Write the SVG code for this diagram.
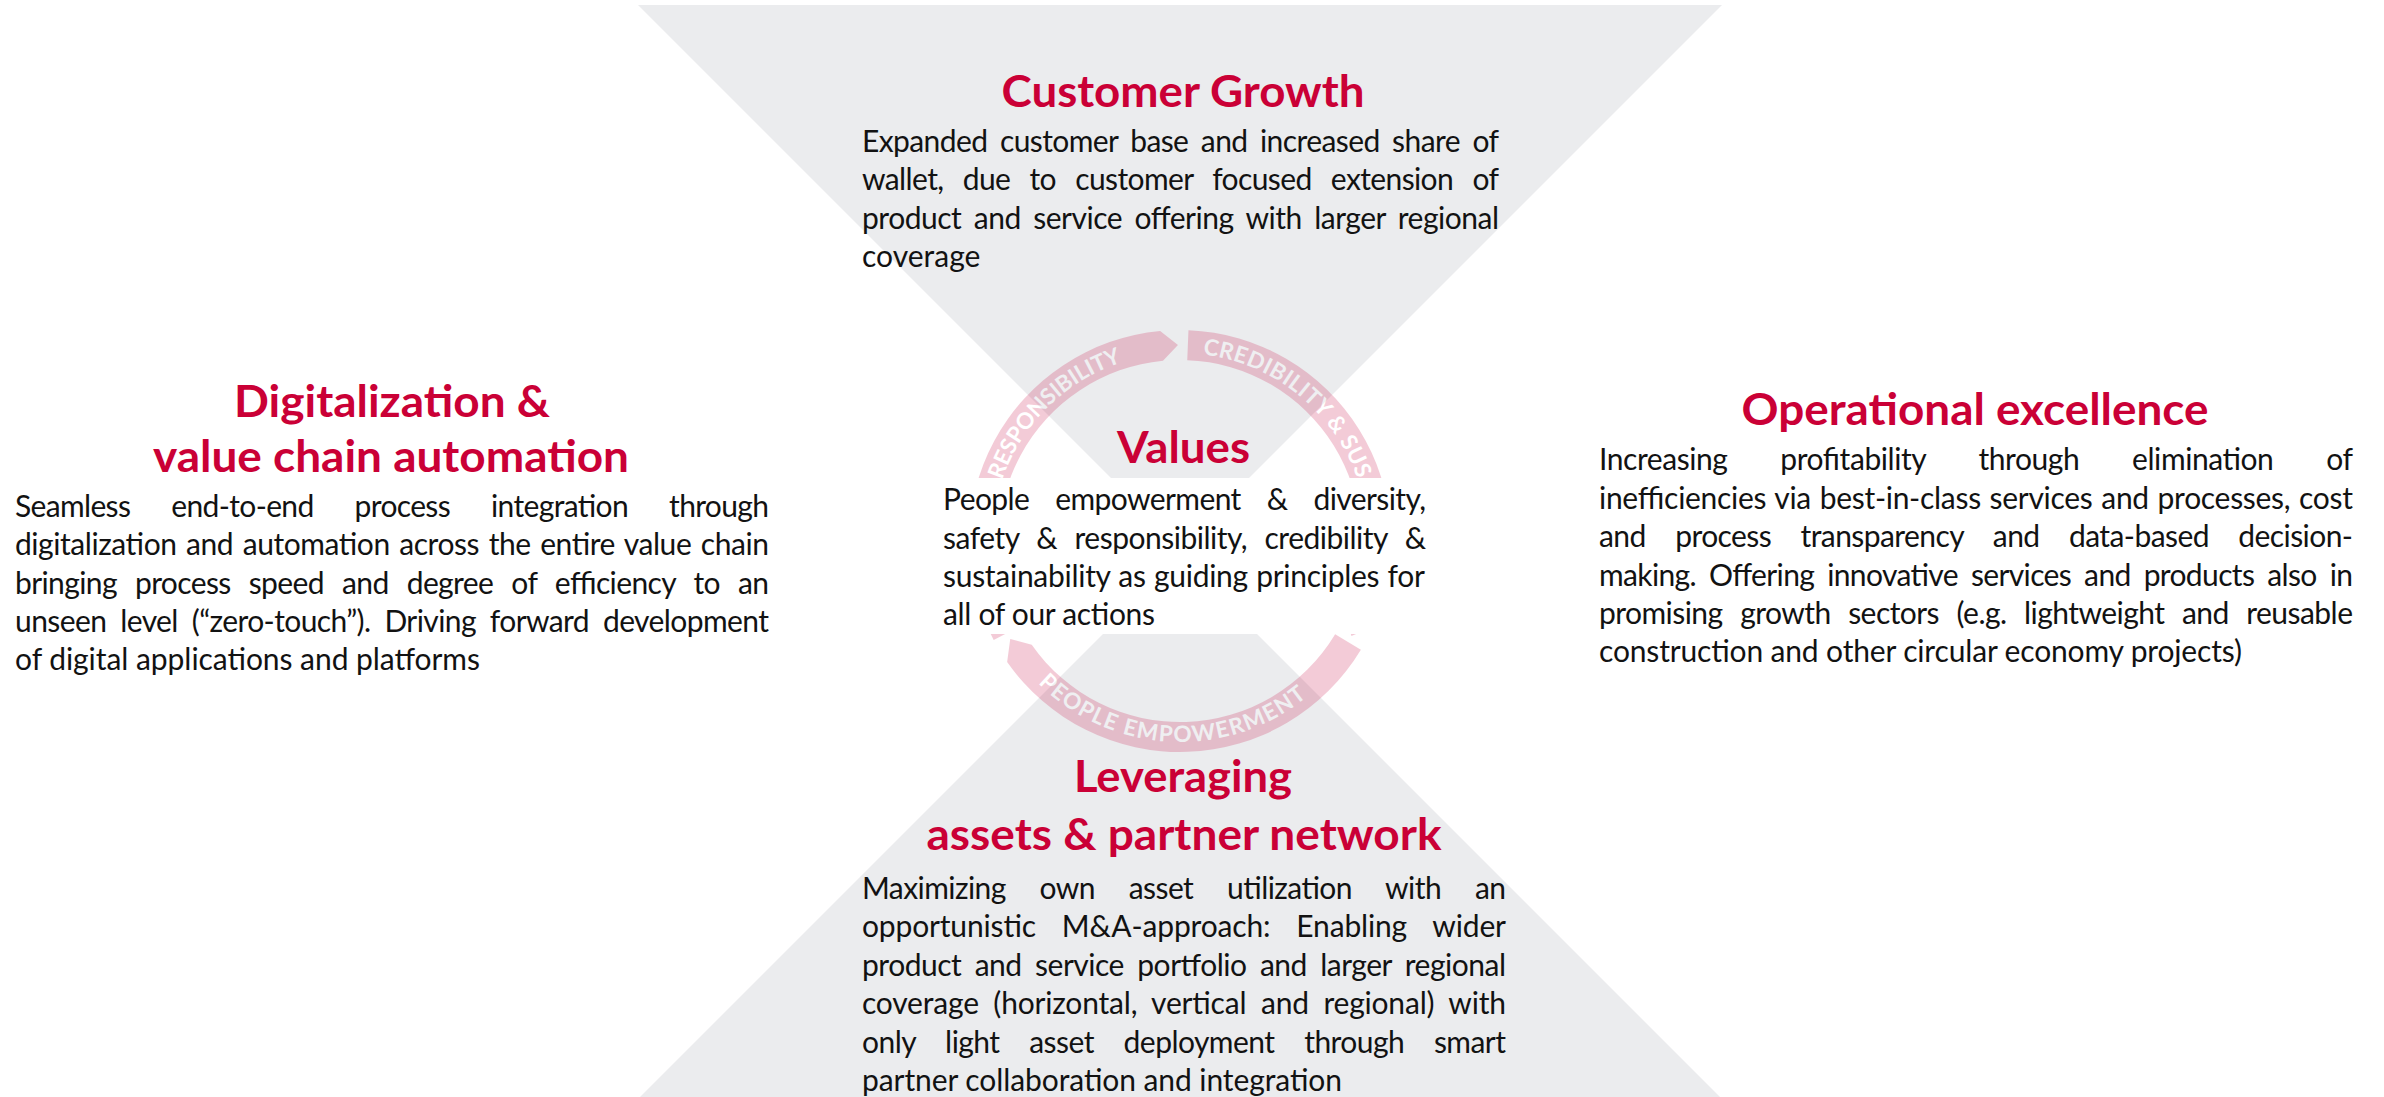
<svg xmlns="http://www.w3.org/2000/svg" width="2384" height="1097" viewBox="0 0 2384 1097">
<style>
.bg{fill:#EBECEE}
.title{font-family:Lato,"Noto Sans",sans-serif;font-weight:700;font-size:43px;fill:#CA0036;text-anchor:middle}
.body{font-family:Lato,"Noto Sans",sans-serif;font-size:30px;fill:#121212}
.seg{fill:#C8003C}
.rt{font-family:Lato,"Noto Sans",sans-serif;font-weight:700;font-size:22.5px;fill:#FFFFFF}
</style>
<defs>
<path id="arcTop" d="M 992 541 A 188 188 0 0 1 1180 353 A 188 188 0 0 1 1368 541"/>
<path id="arcBottom" d="M 979 541 A 201 201 0 0 0 1381 541"/>
</defs>
<rect x="0" y="0" width="2384" height="1097" fill="#FFFFFF"/>
<g id="background">
<polygon class="bg" points="638,5 1722,5 1180,547"/>
<polygon class="bg" points="640,1097 1720,1097 1180,557"/>
</g>
<g id="values-cycle" opacity="0.2">
<path class="seg" d="M 993.70 640.06 A 211 211 0 0 1 1160.14 330.94 L 1177.95 345.01 L 1162.97 360.80 A 181 181 0 0 0 1020.19 625.97 Z"/>
<path class="seg" d="M 1188.47 330.17 A 211 211 0 0 1 1372.76 626.82 L 1351.43 636.02 L 1345.35 614.62 A 181 181 0 0 0 1187.26 360.15 Z"/>
<path class="seg" d="M 1360.86 649.67 A 211 211 0 0 1 1007.16 662.03 L 1010.26 639 L 1031.73 644.82 A 181 181 0 0 0 1335.15 634.22 Z"/>
<text class="rt"><textPath href="#arcTop" startOffset="62" textLength="174" lengthAdjust="spacing">RESPONSIBILITY</textPath></text>
<text class="rt"><textPath href="#arcTop" startOffset="318" textLength="209" lengthAdjust="spacing">CREDIBILITY &amp; SUS</textPath></text>
<text class="rt"><textPath href="#arcBottom" startOffset="158" textLength="295" lengthAdjust="spacing">PEOPLE EMPOWERMENT</textPath></text>
</g>
<g id="node-values">
<rect x="930" y="478" width="510" height="156" fill="#FFFFFF"/>
<text class="title" x="1183.5" y="463" textLength="133" lengthAdjust="spacingAndGlyphs">Values</text>
<text class="body" x="943" y="510" style="word-spacing:18.9px" textLength="483" lengthAdjust="spacing"><tspan>People</tspan> <tspan>empowerment</tspan> <tspan>&amp;</tspan> <tspan>diversity,</tspan></text>
<text class="body" x="943" y="548.5" style="word-spacing:10.2px" textLength="483" lengthAdjust="spacing"><tspan>safety</tspan> <tspan>&amp;</tspan> <tspan>responsibility,</tspan> <tspan>credibility</tspan> <tspan>&amp;</tspan></text>
<text class="body" x="943" y="587" style="word-spacing:0.9px" textLength="482" lengthAdjust="spacing"><tspan>sustainability</tspan> <tspan>as</tspan> <tspan>guiding</tspan> <tspan>principles</tspan> <tspan>for</tspan></text>
<text class="body" x="943" y="625" textLength="212" lengthAdjust="spacing"><tspan>all</tspan> <tspan>of</tspan> <tspan>our</tspan> <tspan>actions</tspan></text>
</g>
<g id="node-customer-growth">
<text class="title" x="1183" y="107" textLength="363" lengthAdjust="spacingAndGlyphs"><tspan>Customer</tspan> <tspan>Growth</tspan></text>
<text class="body" x="862" y="152" style="word-spacing:5.4px" textLength="637" lengthAdjust="spacing"><tspan>Expanded</tspan> <tspan>customer</tspan> <tspan>base</tspan> <tspan>and</tspan> <tspan>increased</tspan> <tspan>share</tspan> <tspan>of</tspan></text>
<text class="body" x="862" y="190" style="word-spacing:12.2px" textLength="637" lengthAdjust="spacing"><tspan>wallet,</tspan> <tspan>due</tspan> <tspan>to</tspan> <tspan>customer</tspan> <tspan>focused</tspan> <tspan>extension</tspan> <tspan>of</tspan></text>
<text class="body" x="862" y="229" style="word-spacing:5.3px" textLength="637" lengthAdjust="spacing"><tspan>product</tspan> <tspan>and</tspan> <tspan>service</tspan> <tspan>offering</tspan> <tspan>with</tspan> <tspan>larger</tspan> <tspan>regional</tspan></text>
<text class="body" x="862" y="267">coverage</text>
</g>
<g id="node-digitalization">
<text class="title" x="392" y="417" textLength="316" lengthAdjust="spacingAndGlyphs"><tspan>Digitalization</tspan> <tspan>&amp;</tspan></text>
<text class="title" x="391" y="472" textLength="476" lengthAdjust="spacingAndGlyphs"><tspan>value</tspan> <tspan>chain</tspan> <tspan>automation</tspan></text>
<text class="body" x="15" y="517" style="word-spacing:34px" textLength="754" lengthAdjust="spacing"><tspan>Seamless</tspan> <tspan>end-to-end</tspan> <tspan>process</tspan> <tspan>integration</tspan> <tspan>through</tspan></text>
<text class="body" x="15" y="555" style="word-spacing:2.3px" textLength="754" lengthAdjust="spacing"><tspan>digitalization</tspan> <tspan>and</tspan> <tspan>automation</tspan> <tspan>across</tspan> <tspan>the</tspan> <tspan>entire</tspan> <tspan>value</tspan> <tspan>chain</tspan></text>
<text class="body" x="15" y="593.5" style="word-spacing:11px" textLength="754" lengthAdjust="spacing"><tspan>bringing</tspan> <tspan>process</tspan> <tspan>speed</tspan> <tspan>and</tspan> <tspan>degree</tspan> <tspan>of</tspan> <tspan>efficiency</tspan> <tspan>to</tspan> <tspan>an</tspan></text>
<text class="body" x="15" y="632" style="word-spacing:6.8px" textLength="754" lengthAdjust="spacing"><tspan>unseen</tspan> <tspan>level</tspan> <tspan>(“zero-touch”).</tspan> <tspan>Driving</tspan> <tspan>forward</tspan> <tspan>development</tspan></text>
<text class="body" x="15" y="670" textLength="465" lengthAdjust="spacing"><tspan>of</tspan> <tspan>digital</tspan> <tspan>applications</tspan> <tspan>and</tspan> <tspan>platforms</tspan></text>
</g>
<g id="node-operational">
<text class="title" x="1975" y="425" textLength="467" lengthAdjust="spacingAndGlyphs"><tspan>Operational</tspan> <tspan>excellence</tspan></text>
<text class="body" x="1599" y="470" style="word-spacing:45.6px" textLength="754" lengthAdjust="spacing"><tspan>Increasing</tspan> <tspan>profitability</tspan> <tspan>through</tspan> <tspan>elimination</tspan> <tspan>of</tspan></text>
<text class="body" x="1599" y="508.5" style="word-spacing:1.35px" textLength="754" lengthAdjust="spacing"><tspan>inefficiencies</tspan> <tspan>via</tspan> <tspan>best-in-class</tspan> <tspan>services</tspan> <tspan>and</tspan> <tspan>processes,</tspan> <tspan>cost</tspan></text>
<text class="body" x="1599" y="547" style="word-spacing:22.3px" textLength="754" lengthAdjust="spacing"><tspan>and</tspan> <tspan>process</tspan> <tspan>transparency</tspan> <tspan>and</tspan> <tspan>data-based</tspan> <tspan>decision-</tspan></text>
<text class="body" x="1599" y="585.5" style="word-spacing:5.9px" textLength="754" lengthAdjust="spacing"><tspan>making.</tspan> <tspan>Offering</tspan> <tspan>innovative</tspan> <tspan>services</tspan> <tspan>and</tspan> <tspan>products</tspan> <tspan>also</tspan> <tspan>in</tspan></text>
<text class="body" x="1599" y="624" style="word-spacing:10.4px" textLength="754" lengthAdjust="spacing"><tspan>promising</tspan> <tspan>growth</tspan> <tspan>sectors</tspan> <tspan>(e.g.</tspan> <tspan>lightweight</tspan> <tspan>and</tspan> <tspan>reusable</tspan></text>
<text class="body" x="1599" y="662" textLength="643" lengthAdjust="spacing"><tspan>construction</tspan> <tspan>and</tspan> <tspan>other</tspan> <tspan>circular</tspan> <tspan>economy</tspan> <tspan>projects)</tspan></text>
</g>
<g id="node-leveraging">
<text class="title" x="1183" y="792" textLength="218" lengthAdjust="spacingAndGlyphs">Leveraging</text>
<text class="title" x="1184" y="850" textLength="515" lengthAdjust="spacingAndGlyphs"><tspan>assets</tspan> <tspan>&amp;</tspan> <tspan>partner</tspan> <tspan>network</tspan></text>
<text class="body" x="862" y="899" style="word-spacing:26.7px" textLength="644" lengthAdjust="spacing"><tspan>Maximizing</tspan> <tspan>own</tspan> <tspan>asset</tspan> <tspan>utilization</tspan> <tspan>with</tspan> <tspan>an</tspan></text>
<text class="body" x="862" y="937" style="word-spacing:18.4px" textLength="644" lengthAdjust="spacing"><tspan>opportunistic</tspan> <tspan>M&amp;A-approach:</tspan> <tspan>Enabling</tspan> <tspan>wider</tspan></text>
<text class="body" x="862" y="975.5" style="word-spacing:6.2px" textLength="644" lengthAdjust="spacing"><tspan>product</tspan> <tspan>and</tspan> <tspan>service</tspan> <tspan>portfolio</tspan> <tspan>and</tspan> <tspan>larger</tspan> <tspan>regional</tspan></text>
<text class="body" x="862" y="1014" style="word-spacing:7.1px" textLength="644" lengthAdjust="spacing"><tspan>coverage</tspan> <tspan>(horizontal,</tspan> <tspan>vertical</tspan> <tspan>and</tspan> <tspan>regional)</tspan> <tspan>with</tspan></text>
<text class="body" x="862" y="1052.5" style="word-spacing:22.6px" textLength="644" lengthAdjust="spacing"><tspan>only</tspan> <tspan>light</tspan> <tspan>asset</tspan> <tspan>deployment</tspan> <tspan>through</tspan> <tspan>smart</tspan></text>
<text class="body" x="862" y="1091" textLength="480" lengthAdjust="spacing"><tspan>partner</tspan> <tspan>collaboration</tspan> <tspan>and</tspan> <tspan>integration</tspan></text>
</g>
</svg>
